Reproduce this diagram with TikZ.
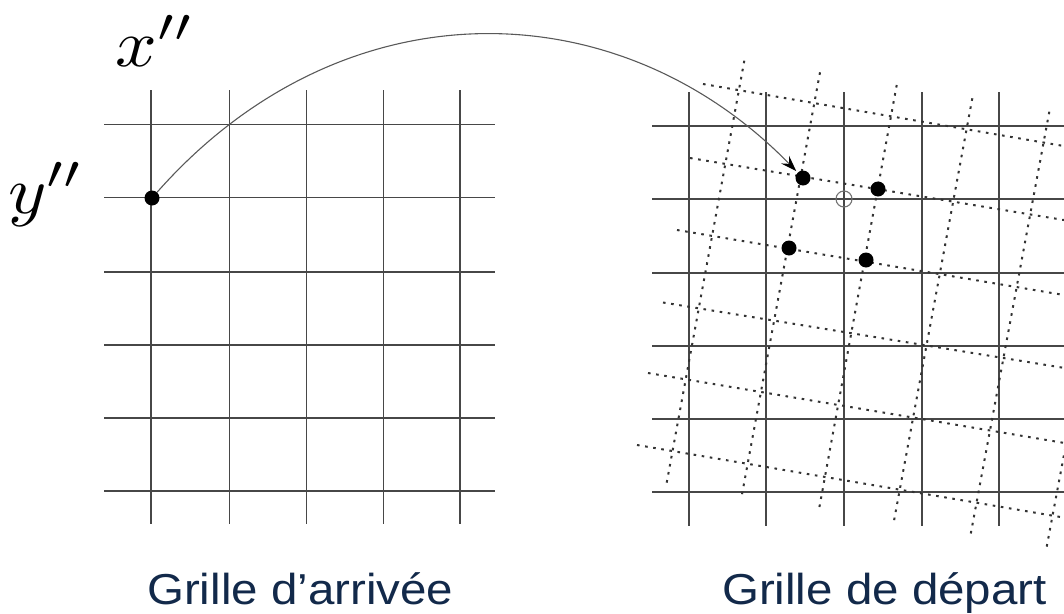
\documentclass[tikz,border=0pt]{standalone}
\usepackage{fontspec}
\usetikzlibrary{arrows.meta}
\newfontfamily\labfont{Liberation Sans}
\definecolor{labcol}{HTML}{12294A}
\begin{document}
\begin{tikzpicture}[x=1pt,y=-1pt,
  gridline/.style={draw=black!72,line width=1.8pt},
  gridlineR/.style={draw=black!72,line width=2pt},
  warpline/.style={draw=black!80,line width=2pt,dash pattern=on 2.6pt off 5.6pt},
  dotnode/.style={circle,fill=black,inner sep=0pt,minimum size=15pt},
  opennode/.style={circle,draw=black!55,line width=1.1pt,inner sep=0pt,minimum size=16pt},
  curve/.style={draw=black!65,line width=1.1pt},
  lab/.style={font=\labfont\fontsize{43.3}{50}\selectfont,text=labcol,xscale=1.097,anchor=base},
  mathlab/.style={xscale=7.3,yscale=6.7,anchor=base,inner sep=0pt}]
\useasboundingbox (0,0) rectangle (1064,613);
\begin{scope}
\clip (0,0) rectangle (1064,613);
% left grid
\foreach \x in {151,229.5,306.5,383.5,460}
  \draw[gridline] (\x,90) -- (\x,524);
\foreach \y in {124.5,197.5,272,345,418,491}
  \draw[gridline] (104,\y) -- (495,\y);
% right grid
\foreach \x in {689,766,844,921.5,998.5}
  \draw[gridlineR] (\x,92) -- (\x,526);
\foreach \y in {125.5,198.5,273,345.5,418.5,492}
  \draw[gridlineR] (652,\y) -- (1070,\y);
% warped grid (roughly horizontal)
\foreach \xa/\ya/\yb in {703/84/148.8, 690/158/222.7, 677/230/297.7, 663/302.5/370.5, 648/373/445.6, 637/445/520.3}
  \draw[warpline] (\xa,\ya) -- (1080,\yb);
% warped grid (roughly vertical)
\foreach \xa/\ya/\xb/\yb in {744.3/60.7/666.7/482.7, 820/72.3/741.7/496, 896.7/85/819/509.3, 972.3/98.3/894/520.7, 1049.3/111.7/970.7/534, 1126/125/1046.7/546.7}
  \draw[warpline] (\xa,\ya) -- (\xb,\yb);
\end{scope}
% points
\node[dotnode] (L) at (152,198) {};
\node[dotnode] (R1) at (803,178) {};
\node[dotnode] (R2) at (878,189) {};
\node[dotnode] (R3) at (789,248) {};
\node[dotnode] (R4) at (866,260) {};
\node[opennode] (T) at (844,199) {};
% mapping arrow
\draw[curve,-{Stealth[length=16pt,width=11pt,inset=6pt,color=black]},shorten >=2pt]
  (L) .. controls +(190,-215) and +(-185,-190) .. (R1);
% labels
\node[mathlab] (xl) at (155.5,66) {$x''$};
\node[mathlab] (yl) at (46,213) {$y''$};
\node[lab] (la) at (300.3,604.7) {Grille d’arrivée};
\node[lab] (lb) at (884.5,604.7) {Grille de départ};
\end{tikzpicture}
\end{document}
